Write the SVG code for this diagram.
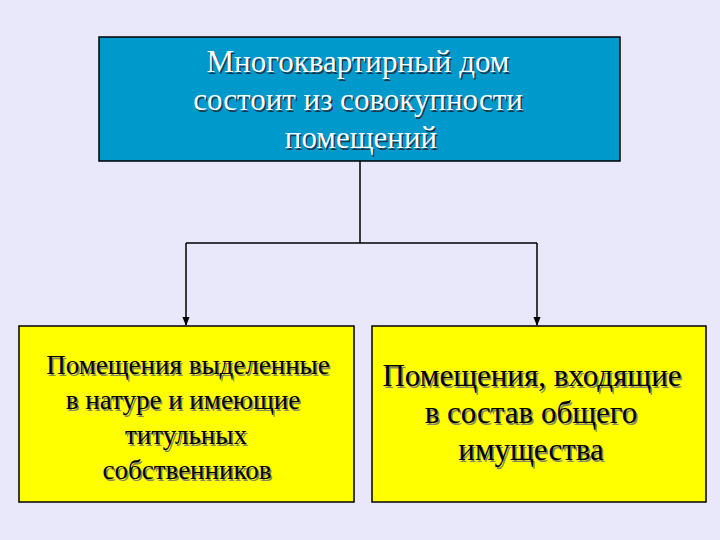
<svg xmlns="http://www.w3.org/2000/svg" width="720" height="540" viewBox="0 0 720 540">
<defs>
<style>
.t{font-family:"Liberation Serif","Times New Roman",serif;text-anchor:middle}
.w{fill:#ffffff}
.k{fill:#000000}
.sd{fill:#1a3a50}
.sg{fill:#8a8a60}
.c{stroke:#000;stroke-width:1.5;fill:none}
</style>
<marker id="a" viewBox="0 0 10 10" refX="9" refY="5" markerWidth="6" markerHeight="6" orient="auto"><path d="M0,1 L10,5 L0,9 z" fill="#000"/></marker>
</defs>
<rect width="720" height="540" fill="#E8E8FA"/>
<g id="top">
<rect x="99" y="37" width="521" height="124" fill="#0099CC" stroke="#000" stroke-width="1.5"/>
<g class="t" font-size="31">
<text class="sd" x="359.5" y="73.5">Многоквартирный дом</text>
<text class="sd" x="359.5" y="111.5">состоит из совокупности</text>
<text class="sd" x="362.5" y="149.5">помещений</text>
<text class="w" x="358" y="72">Многоквартирный дом</text>
<text class="w" x="358" y="110">состоит из совокупности</text>
<text class="w" x="361" y="148">помещений</text>
</g>
</g>
<g id="left">
<rect x="19" y="326" width="335" height="176" fill="#FFFF00" stroke="#000" stroke-width="1.5"/>
<g class="t" font-size="27">
<text class="sg" x="189.5" y="375.5">Помещения выделенные</text>
<text class="sg" x="184.5" y="410.5">в натуре и имеющие</text>
<text class="sg" x="187.5" y="445.5">титульных</text>
<text class="sg" x="188.5" y="480.5">собственников</text>
<text class="k" x="188" y="374">Помещения выделенные</text>
<text class="k" x="183" y="409">в натуре и имеющие</text>
<text class="k" x="186" y="444">титульных</text>
<text class="k" x="187" y="479">собственников</text>
</g>
</g>
<g id="right">
<rect x="372" y="326" width="334" height="176" fill="#FFFF00" stroke="#000" stroke-width="1.5"/>
<g class="t" font-size="31">
<text class="sg" x="533.5" y="387.5">Помещения, входящие</text>
<text class="sg" x="532.5" y="424.5">в состав общего</text>
<text class="sg" x="532.5" y="461.5">имущества</text>
<text class="k" x="532" y="386">Помещения, входящие</text>
<text class="k" x="531" y="423">в состав общего</text>
<text class="k" x="531" y="460">имущества</text>
</g>
</g>
<g id="connectors">
<path class="c" d="M360,161 V243 M186,243 H537"/>
<path class="c" d="M186,243 V325" marker-end="url(#a)"/>
<path class="c" d="M537,243 V325" marker-end="url(#a)"/>
</g>
</svg>
